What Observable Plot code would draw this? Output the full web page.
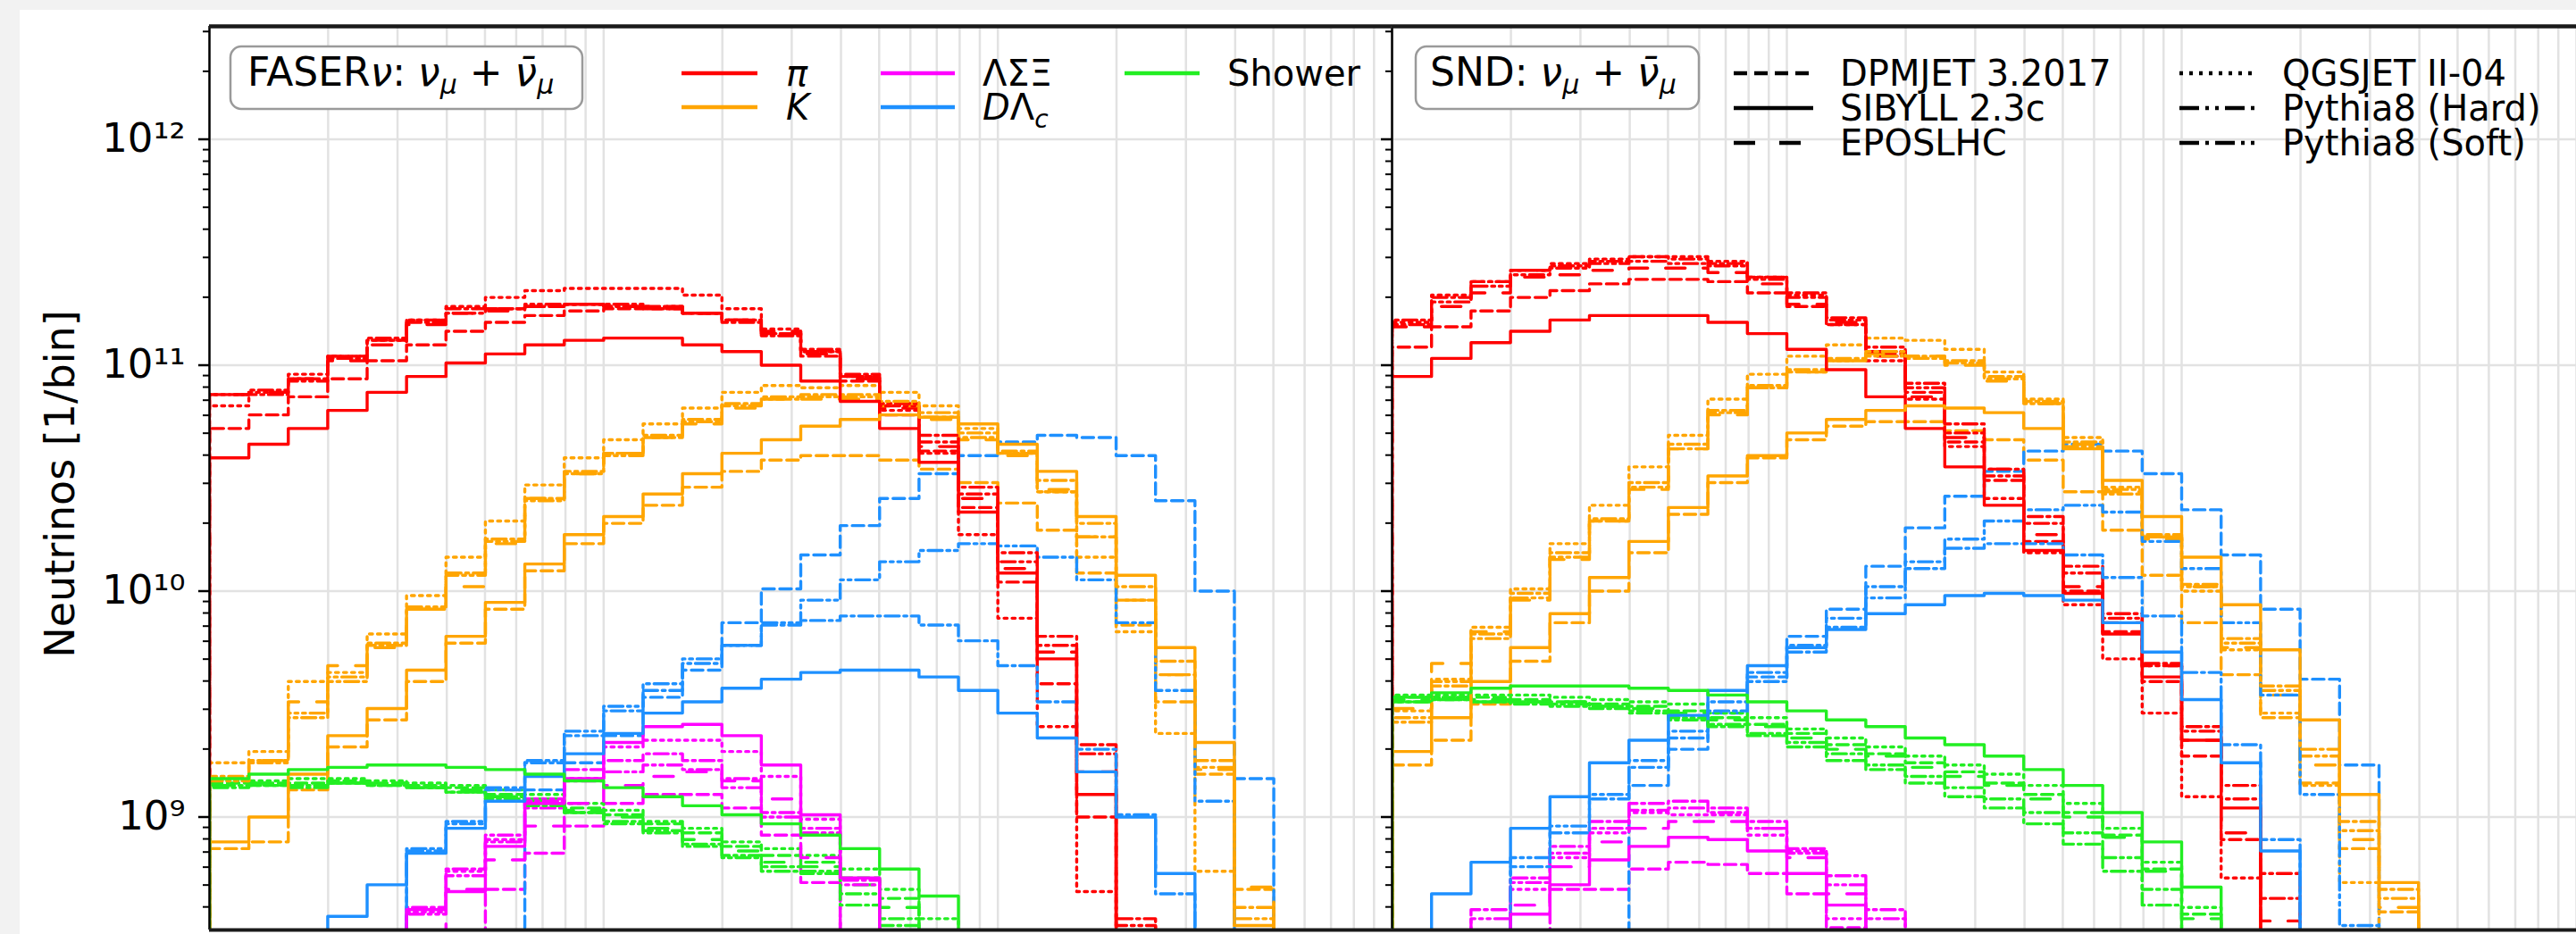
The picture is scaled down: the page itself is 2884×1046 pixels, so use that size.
<!DOCTYPE html>
<html>
<head>
<meta charset="utf-8">
<script src="https://cdn.jsdelivr.net/npm/d3@7"></script>
<script src="https://cdn.jsdelivr.net/npm/@observablehq/plot@0.6"></script>
<style>
  body { margin: 0; width: 2884px; height: 1046px; overflow: hidden; position: relative; background: #f2f2f2; font-family: "DejaVu Sans", sans-serif; }
  #sheet { position: absolute; left: 22px; top: 11px; width: 2862px; height: 1035px; background: #fff; }
  .panel { position: absolute; top: 11px; }
  #overlay { position: absolute; left: 0; top: 0; pointer-events: none; }
</style>
</head>
<body>
<div id="sheet"></div>
<div id="faser" class="panel" style="left:22px"></div>
<div id="snd" class="panel" style="left:1544px"></div>
<svg id="overlay" width="2884" height="1046" font-family="DejaVu Sans" fill="black">
  <!-- y axis title -->
  <text transform="translate(83,542) rotate(-90)" text-anchor="middle" font-size="46">Neutrinos [1/bin]</text>

  <!-- FASERnu label box -->
  <rect x="258" y="52" width="394" height="70" rx="12" fill="white" stroke="#9a9a9a" stroke-width="2.5"/>
  <text x="277" y="96" font-size="44">FASER<tspan font-style="italic">ν</tspan>: <tspan font-style="italic">ν</tspan><tspan font-style="italic" font-size="30" dy="9">μ</tspan><tspan dy="-9"> + </tspan><tspan font-style="italic">ν̄</tspan><tspan font-style="italic" font-size="30" dy="9">μ</tspan></text>

  <!-- parent hadron legend -->
  <g stroke-width="4.5">
    <line x1="763" x2="848" y1="82" y2="82" stroke="#ff0000"/>
    <line x1="763" x2="848" y1="120" y2="120" stroke="#ffa500"/>
    <line x1="986" x2="1069" y1="82" y2="82" stroke="#ff00ff"/>
    <line x1="986" x2="1069" y1="120" y2="120" stroke="#1e90ff"/>
    <line x1="1259" x2="1343" y1="82" y2="82" stroke="#22ee22"/>
  </g>
  <g font-size="40">
    <text x="880" y="96" font-style="italic">π</text>
    <text x="880" y="134" font-style="italic">K</text>
    <text x="1100" y="96">ΛΣΞ</text>
    <text x="1100" y="134"><tspan font-style="italic">D</tspan>Λ<tspan font-style="italic" font-size="28" dy="9">c</tspan></text>
  </g>
  <text x="1374" y="96" font-size="40">Shower</text>

  <!-- SND label box -->
  <rect x="1585" y="52" width="317" height="70" rx="12" fill="white" stroke="#9a9a9a" stroke-width="2.5"/>
  <text x="1601" y="96" font-size="44">SND: <tspan font-style="italic">ν</tspan><tspan font-style="italic" font-size="30" dy="9">μ</tspan><tspan dy="-9"> + </tspan><tspan font-style="italic">ν̄</tspan><tspan font-style="italic" font-size="30" dy="9">μ</tspan></text>

  <!-- generator legend -->
  <g stroke="black" stroke-width="4.5">
    <line x1="1941" x2="2030" y1="82" y2="82" stroke-dasharray="15,8"/>
    <line x1="1941" x2="2030" y1="121" y2="121"/>
    <line x1="1941" x2="2030" y1="160" y2="160" stroke-dasharray="24,27"/>
    <line x1="2440" x2="2524" y1="82" y2="82" stroke-dasharray="4,7"/>
    <line x1="2440" x2="2524" y1="121" y2="121" stroke-dasharray="22,7,4,7,4,7"/>
    <line x1="2440" x2="2524" y1="160" y2="160" stroke-dasharray="22,7,4,7"/>
  </g>
  <g font-size="40">
    <text x="2060" y="96">DPMJET 3.2017</text>
    <text x="2060" y="135">SIBYLL 2.3c</text>
    <text x="2060" y="174">EPOSLHC</text>
    <text x="2555" y="96">QGSJET II-04</text>
    <text x="2555" y="135">Pythia8 (Hard)</text>
    <text x="2555" y="174">Pythia8 (Soft)</text>
  </g>
</svg>

<script>
// Muon-neutrino spectra, log10(neutrinos per bin), in 30 log-spaced energy bins
// (10 bins per decade, 10 GeV to 10 TeV). Missing entries fall below the plotted range.
const at = (start, values) => Array(start).fill(null).concat(values);

// ---------- FASERnu ----------
const faserPion = {
  dpmjet:     [10.72,10.78,10.86,10.94,11.02,11.09,11.15,11.19,11.22,11.24,11.25,11.25,11.23,11.20,11.14,11.04,10.93,10.78,10.62,10.37,10.04,9.59,9.00],
  qgsjet:     [10.82,10.88,10.96,11.04,11.11,11.20,11.26,11.30,11.33,11.34,11.34,11.34,11.31,11.25,11.16,11.06,10.95,10.80,10.61,10.25,9.88,9.40,8.67],
  epos:       [10.87,10.88,10.94,11.02,11.09,11.18,11.23,11.24,11.26,11.27,11.26,11.26,11.23,11.20,11.15,11.05,10.94,10.81,10.64,10.41,10.10,9.73,9.20],
  pythiaHard: [10.87,10.89,10.93,11.04,11.12,11.20,11.23,11.25,11.27,11.27,11.27,11.26,11.23,11.20,11.14,11.06,10.95,10.82,10.66,10.43,10.13,9.76,9.28,8.52],
  pythiaSoft: [10.87,10.87,10.94,11.03,11.11,11.19,11.25,11.25,11.26,11.27,11.26,11.25,11.23,11.19,11.13,11.07,10.96,10.83,10.69,10.46,10.17,9.80,9.32,8.55],
  sibyll:     [10.59,10.65,10.72,10.80,10.88,10.95,11.01,11.05,11.09,11.11,11.12,11.12,11.09,11.06,11.00,10.93,10.84,10.72,10.57,10.35,10.08,9.70,9.10]
};
const faserKaon = {
  dpmjet:     [8.86,8.89,9.12,9.31,9.43,9.60,9.77,9.92,10.09,10.21,10.30,10.38,10.46,10.53,10.58,10.60,10.60,10.58,10.54,10.48,10.39,10.27,10.08,9.85,9.51,9.19,8.68],
  qgsjet:     [9.24,9.29,9.60,9.64,9.81,9.98,10.15,10.31,10.47,10.59,10.67,10.74,10.81,10.88,10.91,10.90,10.91,10.88,10.82,10.72,10.61,10.44,10.15,9.82,9.37,8.76],
  epos:       [9.14,9.25,9.51,9.67,9.75,9.92,10.02,10.21,10.41,10.52,10.61,10.68,10.74,10.81,10.85,10.85,10.85,10.82,10.76,10.67,10.60,10.45,10.24,9.96,9.63,9.21,8.69],
  pythiaHard: [9.16,9.24,9.46,9.62,9.77,9.93,10.07,10.22,10.40,10.52,10.60,10.68,10.75,10.82,10.85,10.86,10.86,10.83,10.77,10.68,10.61,10.44,10.24,9.96,9.63,9.22,8.55],
  pythiaSoft: [9.18,9.25,9.44,9.60,9.76,9.92,10.08,10.23,10.41,10.53,10.61,10.69,10.76,10.83,10.86,10.87,10.87,10.84,10.79,10.70,10.62,10.49,10.30,10.02,9.69,9.25,8.60],
  sibyll:     [8.89,9.00,9.19,9.36,9.48,9.65,9.80,9.95,10.12,10.25,10.33,10.43,10.52,10.61,10.67,10.73,10.76,10.78,10.77,10.74,10.65,10.53,10.33,10.07,9.75,9.33,8.52]
};
const faserHyperon = {
  dpmjet:     at(7, [8.68,8.84,8.96,9.06,9.10,9.10,9.04,8.92,8.71]),
  qgsjet:     at(5, [8.58,8.76,8.90,9.08,9.17,9.31,9.34,9.34,9.29,9.18,8.99]),
  epos:       at(6, [8.68,8.81,8.96,9.06,9.14,9.18,9.20,9.16,9.08,8.82]),
  pythiaHard: at(5, [8.57,8.74,8.89,9.04,9.16,9.20,9.23,9.21,9.13,9.00,8.93,8.70]),
  pythiaSoft: at(5, [8.60,8.77,8.92,9.07,9.21,9.25,9.28,9.25,9.17,9.02,8.95,8.72]),
  sibyll:     at(5, [8.59,8.67,8.87,9.06,9.17,9.33,9.40,9.41,9.36,9.23,9.01,8.73])
};
const faserCharm = {
  dpmjet:     at(8, [9.12,9.24,9.36,9.53,9.65,9.86,10.01,10.16,10.29,10.41,10.52,10.60,10.66,10.69,10.68,10.60,10.40,10.00,9.17]),
  pythiaHard: at(5, [8.86,8.98,9.13,9.25,9.38,9.49,9.59,9.70,9.76,9.86,9.96,10.05,10.13,10.18,10.21,10.20,10.15,10.05,9.86,9.56,9.07]),
  pythiaSoft: at(5, [8.85,8.97,9.12,9.24,9.36,9.47,9.56,9.68,9.76,9.85,9.87,9.89,9.89,9.85,9.78,9.67,9.51,9.30,9.01,8.66]),
  sibyll:     at(3, [8.56,8.70,8.84,8.95,9.07,9.18,9.28,9.37,9.46,9.51,9.57,9.61,9.64,9.65,9.65,9.62,9.56,9.46,9.35,9.20,9.00,8.75])
};
const faserShower = {
  dpmjet:     [9.15,9.15,9.15,9.16,9.15,9.14,9.13,9.10,9.08,9.04,9.01,8.97,8.93,8.87,8.83,8.80,8.73,8.64],
  qgsjet:     [9.16,9.16,9.17,9.17,9.16,9.15,9.14,9.12,9.10,9.06,9.03,8.98,8.95,8.89,8.86,8.83,8.77,8.68,8.55],
  epos:       [9.14,9.15,9.14,9.15,9.15,9.13,9.12,9.09,9.07,9.03,9.00,8.95,8.90,8.85,8.80,8.78,8.70,8.60],
  pythiaHard: [9.14,9.14,9.14,9.15,9.14,9.13,9.11,9.09,9.06,9.02,8.98,8.94,8.88,8.83,8.78,8.76,8.66,8.55],
  pythiaSoft: [9.13,9.14,9.13,9.15,9.14,9.13,9.11,9.08,9.05,9.02,8.97,8.93,8.87,8.82,8.76,8.75,8.61,8.52],
  sibyll:     [9.17,9.19,9.21,9.22,9.23,9.23,9.22,9.21,9.19,9.16,9.13,9.09,9.05,9.01,8.97,8.92,8.86,8.77,8.65]
};

// ---------- SND@LHC ----------
const sndPion = {
  dpmjet:     [11.08,11.17,11.24,11.30,11.33,11.36,11.38,11.38,11.37,11.32,11.26,11.18,11.05,10.88,10.66,10.49,10.22,10.00,9.82,9.60,9.27,8.90],
  qgsjet:     [11.19,11.31,11.37,11.42,11.45,11.47,11.48,11.48,11.46,11.39,11.31,11.18,11.02,10.85,10.64,10.41,10.17,9.94,9.70,9.46,9.09,8.73],
  epos:       [11.17,11.26,11.32,11.39,11.40,11.42,11.43,11.43,11.41,11.36,11.27,11.19,11.04,10.86,10.68,10.54,10.25,10.02,9.86,9.67,9.34,8.93,8.54],
  pythiaHard: [11.18,11.28,11.35,11.40,11.43,11.45,11.46,11.45,11.44,11.38,11.30,11.20,11.06,10.90,10.70,10.51,10.30,10.08,9.88,9.67,9.38,9.08,8.64],
  pythiaSoft: [11.20,11.30,11.37,11.42,11.44,11.46,11.48,11.47,11.45,11.39,11.32,11.21,11.08,10.92,10.74,10.54,10.33,10.11,9.90,9.68,9.40,9.14,8.75],
  sibyll:     [10.95,11.03,11.10,11.15,11.20,11.22,11.22,11.22,11.19,11.14,11.07,10.98,10.86,10.72,10.55,10.38,10.18,9.99,9.81,9.62,9.34,9.04]
};
const sndKaon = {
  dpmjet:     [9.23,9.34,9.50,9.69,9.86,10.00,10.17,10.34,10.48,10.59,10.67,10.73,10.75,10.75,10.71,10.67,10.58,10.44,10.27,10.07,9.86,9.63,9.44,9.15,8.86,8.58],
  qgsjet:     [9.47,9.61,9.84,10.01,10.21,10.38,10.55,10.69,10.85,10.96,11.04,11.09,11.12,11.11,11.07,10.97,10.85,10.68,10.46,10.24,10.00,9.74,9.46,9.14,8.71],
  epos:       [9.48,9.68,9.82,9.96,10.14,10.31,10.45,10.63,10.78,10.90,10.97,11.02,11.05,11.04,11.00,10.93,10.83,10.65,10.44,10.23,10.02,9.75,9.54,9.23,8.90,8.60],
  pythiaHard: [9.44,9.60,9.79,9.97,10.15,10.31,10.46,10.63,10.79,10.90,10.97,11.02,11.04,11.03,11.01,10.94,10.83,10.64,10.43,10.24,10.02,9.77,9.56,9.27,8.94,8.64],
  pythiaSoft: [9.42,9.58,9.81,9.99,10.17,10.32,10.48,10.65,10.80,10.91,10.98,11.03,11.06,11.04,11.02,10.95,10.84,10.66,10.45,10.25,10.03,9.79,9.58,9.30,8.98,8.68],
  sibyll:     [9.29,9.44,9.60,9.75,9.90,10.06,10.22,10.37,10.51,10.60,10.70,10.76,10.80,10.82,10.81,10.79,10.72,10.63,10.49,10.33,10.15,9.94,9.74,9.43,9.10,8.71]
};
const sndHyperon = {
  dpmjet:     at(4, [8.68,8.68,8.77,8.80,8.79,8.75,8.66,8.51]),
  qgsjet:     at(3, [8.68,8.82,8.93,9.02,9.01,9.01,8.92,8.85,8.55]),
  epos:       at(3, [8.61,8.78,8.89,8.95,8.98,8.98,8.95,8.82,8.66]),
  pythiaHard: at(2, [8.55,8.71,8.84,8.95,9.03,9.04,9.02,8.95,8.84,8.70,8.55]),
  pythiaSoft: at(2, [8.59,8.73,8.87,8.98,9.06,9.07,9.04,8.98,8.86,8.74,8.59]),
  sibyll:     at(3, [8.57,8.70,8.81,8.87,8.91,8.90,8.85,8.75,8.61])
};
const sndCharm = {
  dpmjet:     at(6, [9.14,9.30,9.46,9.62,9.80,9.92,10.11,10.28,10.42,10.53,10.62,10.65,10.62,10.52,10.36,10.16,9.92,9.61,9.23]),
  pythiaHard: at(3, [8.82,8.96,9.10,9.25,9.38,9.51,9.64,9.76,9.88,9.97,10.13,10.23,10.31,10.36,10.38,10.35,10.22,10.10,9.86,9.54,9.10,8.52]),
  pythiaSoft: at(3, [8.78,8.93,9.08,9.22,9.35,9.47,9.60,9.73,9.84,10.02,10.10,10.19,10.21,10.21,10.16,10.06,9.89,9.64,9.32,8.90]),
  sibyll:     at(1, [8.66,8.80,8.95,9.09,9.24,9.34,9.45,9.56,9.67,9.75,9.83,9.90,9.94,9.98,9.99,9.98,9.96,9.86,9.73,9.52,9.24,8.85])
};
const sndShower = {
  dpmjet:     [9.53,9.53,9.53,9.52,9.51,9.50,9.49,9.47,9.44,9.41,9.37,9.32,9.28,9.24,9.20,9.15,9.10,9.02,8.92,8.77,8.57],
  qgsjet:     [9.54,9.54,9.54,9.54,9.53,9.52,9.51,9.50,9.46,9.44,9.39,9.35,9.31,9.27,9.23,9.19,9.14,9.06,8.95,8.80,8.60],
  epos:       [9.52,9.53,9.52,9.51,9.51,9.49,9.48,9.46,9.43,9.40,9.35,9.30,9.27,9.22,9.18,9.14,9.08,9.00,8.91,8.76,8.55],
  pythiaHard: [9.51,9.52,9.51,9.51,9.50,9.49,9.47,9.44,9.41,9.37,9.33,9.28,9.23,9.18,9.13,9.08,9.02,8.93,8.82,8.68],
  pythiaSoft: [9.51,9.52,9.51,9.50,9.49,9.48,9.46,9.43,9.40,9.36,9.31,9.25,9.21,9.15,9.09,9.04,8.97,8.88,8.76,8.61],
  sibyll:     [9.53,9.55,9.57,9.58,9.58,9.58,9.57,9.56,9.54,9.51,9.47,9.43,9.40,9.35,9.32,9.27,9.21,9.14,9.02,8.89,8.69]
};

// ---------- styling ----------
const parentColors = { pion: "#ff0000", kaon: "#ffa500", hyperon: "#ff00ff", charm: "#1e90ff", shower: "#22ee22" };
const generatorDash = {
  dpmjet: "13,6",
  qgsjet: "3.5,5.5",
  epos: "22,20",
  pythiaHard: "16,5,3.5,5,3.5,5",
  pythiaSoft: "16,5,3.5,5",
  sibyll: null
};
const drawOrder = ["dpmjet", "qgsjet", "epos", "pythiaHard", "pythiaSoft", "sibyll"];

// ---------- axes ----------
const xDomain = [10, 1e4];
const yDomain = [10 ** 8.5, 10 ** 12.5];
const binEdges = d3.range(31).map(i => 10 ** (1 + i / 10));
const floorValue = 1e6; // empty bins: the step drops out of the frame
const xGrid = [10, 100, 1000].flatMap(d => d3.range(1, 10).map(m => m * d)).concat([1e4]);
const yMajor = [1e9, 1e10, 1e11, 1e12];
const yMinor = [1e8, 1e9, 1e10, 1e11, 1e12]
  .flatMap(d => d3.range(2, 10).map(m => m * d))
  .filter(v => v > yDomain[0] && v < yDomain[1]);

const superDigits = "⁰¹²³⁴⁵⁶⁷⁸⁹";
const powerLabel = v => "10" + String(Math.round(Math.log10(v))).split("").map(c => superDigits[+c]).join("");

// histogram outline as a step path in data coordinates
function stepPath(logs) {
  const vals = binEdges.slice(0, 30).map((_, i) => (logs[i] == null ? floorValue : 10 ** logs[i]));
  const pts = [{x: binEdges[0], y: floorValue}];
  vals.forEach((v, i) => { pts.push({x: binEdges[i], y: v}, {x: binEdges[i + 1], y: v}); });
  pts.push({x: binEdges[30], y: floorValue});
  return pts;
}

function spectrumMarks(sets) {
  const marks = [];
  for (const gen of drawOrder) {
    for (const [parent, set] of Object.entries(sets)) {
      if (!set[gen]) continue;
      marks.push(Plot.line(stepPath(set[gen]), {
        x: "x", y: "y",
        stroke: parentColors[parent],
        strokeWidth: 3.4,
        strokeDasharray: generatorDash[gen] ?? undefined,
        clip: true
      }));
    }
  }
  return marks;
}

function panel(sets, {innerWidth, marginLeft, labels}) {
  return Plot.plot({
    width: marginLeft + innerWidth,
    height: 1035,
    marginLeft, marginRight: 0, marginTop: 18, marginBottom: 5,
    style: {background: "transparent", fontFamily: "DejaVu Sans", color: "black", overflow: "visible"},
    x: {type: "log", domain: xDomain, axis: null},
    y: {type: "log", domain: yDomain, axis: null},
    marks: [
      Plot.ruleX(xGrid, {stroke: "#e2e2e2", strokeWidth: 2.5}),
      Plot.ruleY(yMajor, {stroke: "#e2e2e2", strokeWidth: 2.5}),
      ...spectrumMarks(sets),
      Plot.axisY({ticks: yMinor, tickSize: 7, strokeWidth: 2, tickFormat: () => "", label: null}),
      Plot.axisY({ticks: yMajor, tickSize: 12, tickPadding: 15, strokeWidth: 2.5, fontSize: 45,
                  tickFormat: labels ? powerLabel : () => "", label: null}),
      Plot.ruleX([xDomain[0]], {stroke: "black", strokeWidth: 2.5}),
      Plot.ruleY([yDomain[1]], {stroke: "#1a1a1a", strokeWidth: 4.5}),
      Plot.ruleY([yDomain[0]], {stroke: "#1a1a1a", strokeWidth: 4})
    ]
  });
}

document.getElementById("faser").append(panel(
  {pion: faserPion, kaon: faserKaon, hyperon: faserHyperon, charm: faserCharm, shower: faserShower},
  {innerWidth: 1324, marginLeft: 212, labels: true}));
document.getElementById("snd").append(panel(
  {pion: sndPion, kaon: sndKaon, hyperon: sndHyperon, charm: sndCharm, shower: sndShower},
  {innerWidth: 1326, marginLeft: 14, labels: false}));
</script>
</body>
</html>
